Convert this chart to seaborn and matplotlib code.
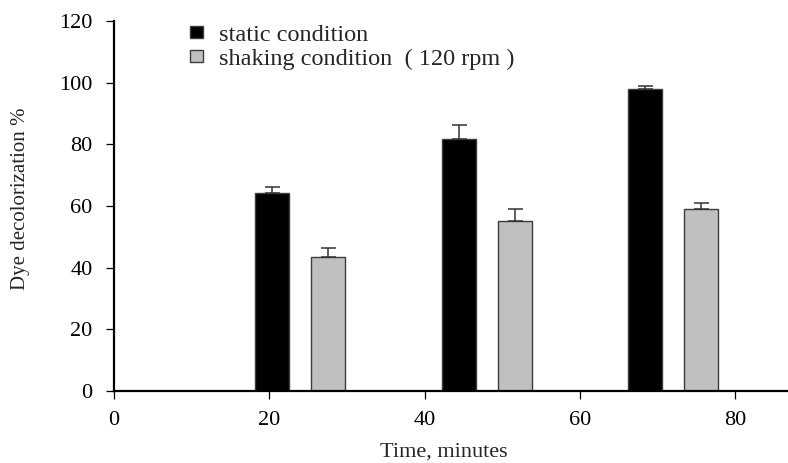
import matplotlib

matplotlib.use("Agg")

import matplotlib.pyplot as plt
import numpy as np
import pandas as pd
import seaborn as sns

# time groups (as placed on the x axis) and the two conditions
group_x = [24, 48, 72]
conditions = ["static condition", "shaking condition  ( 120 rpm )"]
static_values = [64.3, 81.8, 98.1]
static_err = [1.8, 4.5, 0.7]
shaking_values = [43.4, 55.1, 59.0]
shaking_err = [3.0, 3.8, 2.1]
x_ticks = [0, 20, 40, 60, 80]
y_ticks = [0, 20, 40, 60, 80, 100, 120]

sns.set_theme(style="ticks")
plt.rcParams["font.family"] = ["Liberation Serif", "DejaVu Serif"]

df = pd.DataFrame({
    "time": group_x * 2,
    "value": static_values + shaking_values,
    "condition": [conditions[0]] * 3 + [conditions[1]] * 3,
})

fig = plt.figure(figsize=(7.88, 4.63), dpi=100)
ax = fig.add_axes([0.1447, 0.1555, 0.8541, 0.7991])

sns.barplot(
    data=df, x="time", y="value", hue="condition", hue_order=conditions,
    native_scale=True, width=0.6, gap=0.39, errorbar=None, saturation=1,
    palette=["#000000", "#c0c0c0"], edgecolor="#3c3c3c", linewidth=1.0, ax=ax,
)

for container, err in zip(ax.containers, (static_err, shaking_err)):
    centers = [p.get_x() + p.get_width() / 2 for p in container.patches]
    tops = [p.get_height() for p in container.patches]
    ax.errorbar(centers, tops, yerr=[np.zeros(len(err)), err], fmt="none",
                ecolor="#333333", elinewidth=1.1, capsize=5.4, capthick=1.1, zorder=5)

ax.set_xlim(0, 86.7)
ax.set_ylim(0, 120)
ax.set_xticks(x_ticks)
ax.set_yticks(y_ticks)
ax.tick_params(axis="both", direction="out", length=5.5, width=0.9, colors="black", labelsize=16)
ax.tick_params(axis="y", pad=10)
ax.tick_params(axis="x", pad=9)

sns.despine(ax=ax)
for side in ("left", "bottom"):
    ax.spines[side].set_linewidth(1.6)
    ax.spines[side].set_color("black")

ax.set_xlabel("Time, minutes", fontsize=16)
ax.set_ylabel("Dye decolorization %", fontsize=15)
ax.xaxis.set_label_coords(0.49, -0.138)
ax.yaxis.set_label_coords(-0.125, 0.52)

handles, labels = ax.get_legend_handles_labels()
ax.legend(handles, labels, loc="upper left", bbox_to_anchor=(0.113, 0.99),
          frameon=False, fontsize=17.5, handlelength=0.55, handleheight=0.37,
          handletextpad=0.66, labelspacing=0.12, borderpad=0, borderaxespad=0)

fig.savefig("out.png", dpi=100, facecolor="white")
